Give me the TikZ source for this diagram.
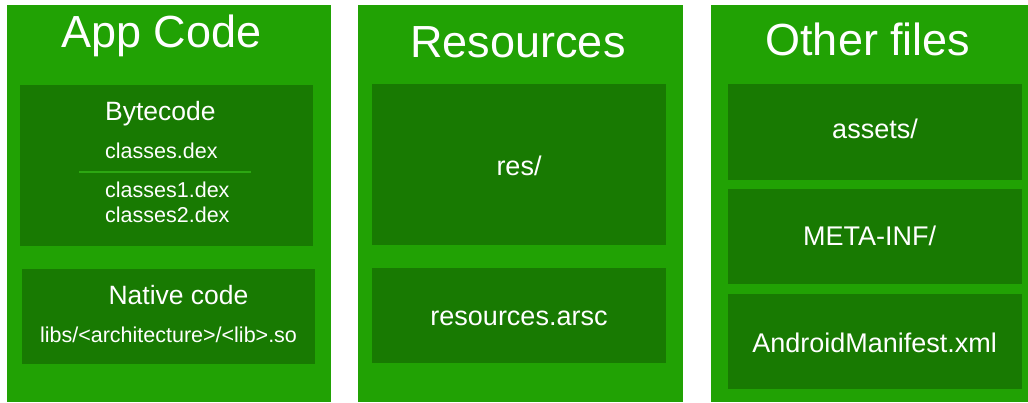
\documentclass[tikz,border=0pt]{standalone}
\usepackage{fontspec}
\setmainfont{Liberation Sans}
\definecolor{outergreen}{HTML}{21A204}
\definecolor{innergreen}{HTML}{187A02}
\definecolor{sepgreen}{HTML}{2CA712}
\tikzset{
  panel/.style={fill=outergreen},
  inbox/.style={fill=innergreen},
  title/.style={text=white,inner sep=0pt,anchor=base,font=\fontsize{45}{54}\selectfont},
  head/.style={text=white,inner sep=0pt,anchor=base,font=\fontsize{26.5}{32}\selectfont},
  entry/.style={text=white,inner sep=0pt,anchor=base,font=\fontsize{21.5}{26}\selectfont},
  folder/.style={text=white,inner sep=0pt,anchor=base,font=\fontsize{27}{32}\selectfont}
}

\begin{document}
\begin{tikzpicture}[x=1pt,y=-1pt]
\useasboundingbox (0,0) rectangle (1028,402);
% app code
\fill[panel] (7,5) rectangle (331,402);
\fill[inbox] (20,85) rectangle (313,246);
\fill[inbox] (22,269) rectangle (315,364);
\node[title] (appcode) at (161.5,47) {App Code};
\node[head,anchor=base west] (bytecode) at (105,120) {Bytecode};
\node[entry,anchor=base west] (dex) at (105,158) {classes.dex};
\coordinate (sepl) at (79,172);
\coordinate (sepr) at (251,172);
\draw[sepgreen,line width=1.2pt] (sepl) -- (sepr);
\node[entry,anchor=base west] (dexa) at (105,197) {classes1.dex};
\node[entry,anchor=base west] (dexb) at (105,222) {classes2.dex};
\node[head] (native) at (178.5,304) {Native code};
\node[entry] (libs) at (168.5,342) {libs/<architecture>/<lib>.so};
% resources
\fill[panel] (358,5) rectangle (683,402);
\fill[inbox] (372,84) rectangle (666,245);
\fill[inbox] (372,268) rectangle (666,363);
\node[title] (resources) at (518,57) {Resources};
\node[folder] (res) at (519,175) {res/};
\node[folder] (arsc) at (519,325) {resources.arsc};
% other files
\fill[panel] (711,5) rectangle (1028,402);
\fill[inbox] (728,84) rectangle (1022,180);
\fill[inbox] (728,189) rectangle (1022,284);
\fill[inbox] (728,294) rectangle (1022,389);
\node[title] (other) at (868,55) {Other files};
\node[folder] (assets) at (875,138) {assets/};
\node[folder] (meta) at (869.5,245) {META-INF/};
\node[folder] (manifest) at (874.7,352) {AndroidManifest.xml};
\end{tikzpicture}
\end{document}
